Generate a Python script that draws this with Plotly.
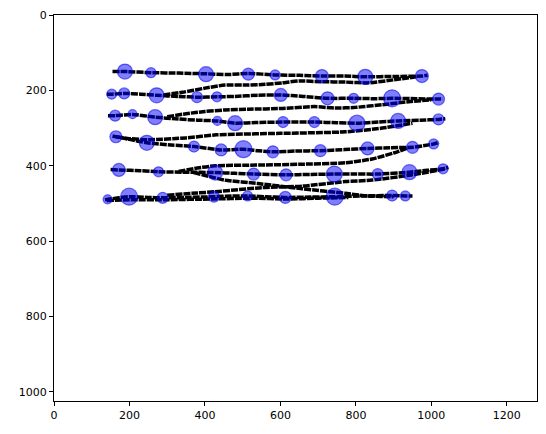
import plotly.graph_objects as go

# ---- stroke trajectories (image coordinates) ----
line1_x = [155, 188, 257, 330, 403, 460, 515, 586, 650, 710, 770, 825, 900, 975, 990]
line1_y = [150, 150, 153, 154, 156, 158, 155, 159, 160, 162, 162, 164, 163, 162, 160]

line2_x = [290, 340, 400, 453, 515, 560, 605, 650, 710, 772, 833, 900, 960]
line2_y = [212, 205, 194, 186, 186, 184, 180, 175, 177, 178, 180, 172, 164]

line3_x = [140, 153, 186, 230, 272, 330, 379, 432, 480, 540, 601, 660, 725, 794, 850, 896, 960, 1019, 1030]
line3_y = [210, 210, 208, 210, 213, 216, 218, 217, 216, 213, 212, 216, 221, 221, 222, 221, 222, 223, 222]

line4_x = [300, 350, 400, 453, 515, 605, 690, 745, 800, 870, 940, 1000]
line4_y = [270, 262, 256, 252, 250, 248, 243, 247, 245, 238, 230, 225]

line5_x = [143, 162, 208, 268, 330, 380, 433, 480, 540, 607, 690, 750, 803, 860, 912, 970, 1019, 1037]
line5_y = [267, 267, 264, 271, 276, 279, 281, 287, 285, 284, 284, 286, 287, 284, 281, 279, 277, 275]

line6_x = [165, 200, 250, 350, 430, 600, 772, 870, 950]
line6_y = [323, 328, 331, 326, 318, 314, 310, 300, 287]

line7_x = [155, 164, 200, 246, 310, 371, 443, 502, 540, 580, 640, 706, 770, 831, 890, 950, 1006, 1020]
line7_y = [321, 323, 330, 339, 345, 349, 358, 356, 360, 363, 361, 360, 357, 354, 352, 351, 342, 338]

line8_x = [330, 380, 427, 550, 650, 772, 843, 900, 935]
line8_y = [415, 406, 400, 398, 396, 392, 382, 366, 354]

line9_x = [150, 172, 230, 277, 350, 427, 480, 529, 615, 680, 743, 800, 858, 942, 990, 1031, 1045]
line9_y = [410, 411, 413, 416, 417, 418, 420, 422, 424, 423, 422, 422, 422, 417, 412, 408, 404]

line10_x = [370, 410, 453, 540, 658, 772, 830, 900]
line10_y = [418, 428, 438, 447, 461, 473, 480, 482]

line11_x = [300, 380, 427, 550, 658, 772, 843, 950, 1037]
line11_y = [478, 472, 469, 458, 454, 442, 438, 424, 408]

line12_x = [135, 142, 199, 250, 288, 350, 424, 470, 513, 560, 613, 680, 744, 820, 896, 931, 950]
line12_y = [490, 489, 482, 484, 485, 484, 482, 480, 480, 482, 484, 483, 482, 480, 479, 480, 480]

line13_x = [140, 200, 300, 420, 520, 620, 700, 780]
line13_y = [492, 490, 490, 488, 486, 488, 486, 484]

# ---- keypoints (circles) ----
circle_x = [188, 257, 403, 515, 586, 710, 825, 975,
            153, 186, 272, 379, 432, 601, 725, 794, 896, 1019,
            162, 208, 268, 433, 480, 607, 690, 803, 912, 1019,
            164, 246, 371, 443, 502, 580, 706, 831, 950, 1006,
            172, 277, 427, 529, 615, 743, 858, 942, 1031,
            142, 199, 288, 424, 513, 613, 744, 896, 931]
circle_y = [150, 153, 157, 157, 159, 162, 164, 162,
            210, 208, 213, 218, 217, 212, 221, 221, 221, 223,
            267, 263, 271, 281, 287, 284, 284, 287, 281, 277,
            323, 339, 349, 358, 356, 363, 360, 354, 351, 342,
            411, 416, 418, 422, 424, 422, 422, 417, 408,
            489, 482, 485, 482, 480, 484, 482, 479, 480]
circle_size = [15, 10, 15, 12, 10, 13, 15, 13,
               10, 11, 15, 11, 10, 13, 13, 10, 17, 12,
               11, 9, 15, 9, 15, 11, 11, 16, 15, 11,
               12, 15, 11, 12, 17, 12, 12, 13, 12, 10,
               13, 10, 15, 12, 12, 16, 11, 15, 10,
               9, 17, 11, 11, 10, 12, 17, 11, 10]

lines_x = [line1_x, line2_x, line3_x, line4_x, line5_x, line6_x, line7_x,
           line8_x, line9_x, line10_x, line11_x, line12_x, line13_x]
lines_y = [line1_y, line2_y, line3_y, line4_y, line5_y, line6_y, line7_y,
           line8_y, line9_y, line10_y, line11_y, line12_y, line13_y]

fig = go.Figure()
for lx, ly in zip(lines_x, lines_y):
    fig.add_trace(go.Scatter(
        x=lx, y=ly, mode="lines",
        line=dict(color="black", width=3.5, dash="7px,1px", shape="spline", smoothing=0.6),
        hoverinfo="skip", showlegend=False))

fig.add_trace(go.Scatter(
    x=circle_x, y=circle_y, mode="markers",
    marker=dict(size=circle_size, color="rgba(0,0,255,0.5)", opacity=1,
                line=dict(color="rgba(0,0,230,0.55)", width=1.2)),
    showlegend=False))

axis_common = dict(
    showline=True, linecolor="black", linewidth=1, mirror=True,
    ticks="outside", ticklen=4, tickcolor="black", tickwidth=1,
    showgrid=False, zeroline=False, automargin=False,
    tickfont=dict(family="DejaVu Sans", size=11, color="black"),
)

# page body adds an 8px offset, so the figure is sized to fit inside it
fig.update_layout(
    width=530, height=418,
    margin=dict(l=46, r=1, t=7, b=25),
    plot_bgcolor="white", paper_bgcolor="white",
    xaxis=dict(range=[0, 1280], tickvals=[0, 200, 400, 600, 800, 1000, 1200], **axis_common),
    yaxis=dict(range=[1024, 0], tickvals=[0, 200, 400, 600, 800, 1000], **axis_common),
)

fig.write_html("out.html")
